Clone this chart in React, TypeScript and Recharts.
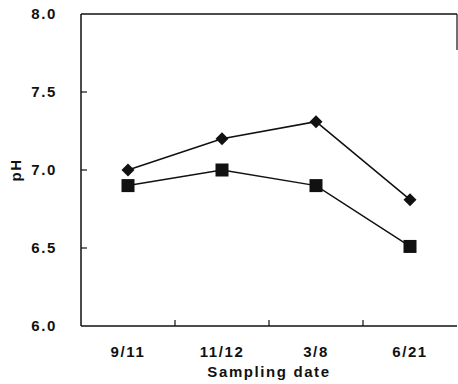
import React from 'react';
import { LineChart, Line, XAxis, YAxis, ReferenceLine } from 'recharts';

// Sampling dates (categories) and pH readings for the two series
const dates = ['9/11', '11/12', '3/8', '6/21'];
const phDiamond = [7.0, 7.2, 7.31, 6.81];
const phSquare = [6.9, 7.0, 6.9, 6.51];
const yTicks = [6.0, 6.5, 7.0, 7.5, 8.0];

// Each date sits in the middle of its own unit-wide band on a numeric axis
const data = dates.map((d, i) => ({
  pos: i + 0.5,
  date: d,
  diamond: phDiamond[i],
  square: phSquare[i],
}));

// Half positions carry date labels, whole positions carry band boundary tick marks
const xTickPositions: number[] = [];
for (let i = 0; i < dates.length; i++) {
  xTickPositions.push(i + 0.5);
  if (i < dates.length - 1) xTickPositions.push(i + 1);
}

const FONT = '"Liberation Sans", Arial, Helvetica, sans-serif';
const INK = '#111';
const textStyle = {
  fontFamily: FONT,
  fontSize: 15,
  fontWeight: 600,
  letterSpacing: 1.6,
  fill: INK,
};

const XTick = (props: any) => {
  const { x, y, payload } = props;
  const v = payload.value as number;
  if (Number.isInteger(v)) {
    return <line x1={x} x2={x} y1={y} y2={y - 6} stroke={INK} strokeWidth={1.2} />;
  }
  const label = dates[Math.floor(v)];
  return (
    <text x={x} y={y + 31} textAnchor="middle" {...textStyle}>
      {label}
    </text>
  );
};

const YTick = (props: any) => {
  const { x, y, payload } = props;
  const v = payload.value as number;
  const showLine = v > 6 && v < 8;
  return (
    <g>
      {showLine && <line x1={x} x2={x + 6} y1={y} y2={y} stroke={INK} strokeWidth={1.2} />}
      <text x={x - 24} y={y + 5} textAnchor="end" {...textStyle}>
        {v.toFixed(1)}
      </text>
    </g>
  );
};

const Diamond = (props: any) => {
  const { cx, cy } = props;
  if (cx == null || cy == null) return null;
  const r = 6.5;
  return <path d={`M${cx},${cy - r}L${cx + r},${cy}L${cx},${cy + r}L${cx - r},${cy}Z`} fill={INK} />;
};

const Square = (props: any) => {
  const { cx, cy } = props;
  if (cx == null || cy == null) return null;
  const s = 13;
  return <rect x={cx - s / 2} y={cy - s / 2} width={s} height={s} fill={INK} />;
};

const YLabel = (props: any) => {
  const vb = props.viewBox || {};
  const cy = (vb.y ?? 14) + (vb.height ?? 312) / 2;
  return (
    <text x={21} y={cy} transform={`rotate(-90, 21, ${cy})`} textAnchor="middle" {...textStyle}>
      pH
    </text>
  );
};

const XLabel = (props: any) => {
  const vb = props.viewBox || {};
  const cx = (vb.x ?? 81) + (vb.width ?? 376) / 2;
  return (
    <text x={cx} y={(vb.y ?? 326) + 51} textAnchor="middle" {...textStyle}>
      Sampling date
    </text>
  );
};

export default function App() {
  return (
    <div style={{ position: 'absolute', left: 0, top: 0, background: '#fff' }}>
      <LineChart width={458} height={384} data={data} margin={{ top: 14, right: 1, bottom: 0, left: 0 }}>
        <XAxis
          dataKey="pos"
          type="number"
          domain={[0, dates.length]}
          ticks={xTickPositions}
          interval={0}
          tick={<XTick />}
          tickLine={false}
          tickSize={0}
          tickMargin={0}
          height={58}
          axisLine={{ stroke: INK, strokeWidth: 1.5 }}
          label={<XLabel />}
        />
        <YAxis
          type="number"
          domain={[6, 8]}
          ticks={yTicks}
          interval={0}
          tick={<YTick />}
          tickLine={false}
          tickSize={0}
          tickMargin={0}
          width={81}
          axisLine={{ stroke: INK, strokeWidth: 1.5 }}
          label={<YLabel />}
        />
        <ReferenceLine y={8} stroke={INK} strokeWidth={1.5} />
        <ReferenceLine
          segment={[
            { x: dates.length, y: 8 },
            { x: dates.length, y: 7.77 },
          ]}
          stroke={INK}
          strokeWidth={1.2}
        />
        <Line
          dataKey="diamond"
          stroke={INK}
          strokeWidth={1.5}
          dot={<Diamond />}
          activeDot={false}
          isAnimationActive={false}
        />
        <Line
          dataKey="square"
          stroke={INK}
          strokeWidth={1.5}
          dot={<Square />}
          activeDot={false}
          isAnimationActive={false}
        />
      </LineChart>
    </div>
  );
}
